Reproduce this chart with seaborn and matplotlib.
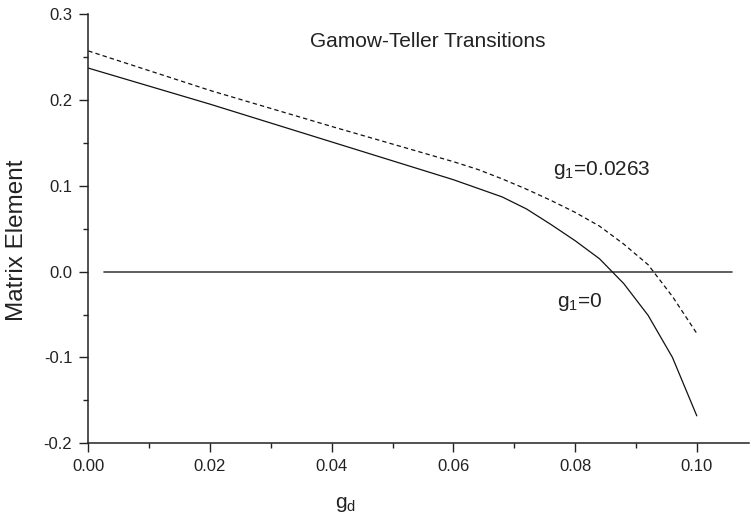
import matplotlib
matplotlib.use("Agg")
import matplotlib.pyplot as plt
from matplotlib.ticker import MultipleLocator, FormatStrFormatter
import numpy as np
import pandas as pd
import seaborn as sns

# Coupling g_d and the Gamow-Teller matrix element for two values of g_1
g_d = [0.0, 0.02, 0.04, 0.06, 0.064, 0.068, 0.072, 0.076, 0.08,
       0.084, 0.088, 0.092, 0.096, 0.1]
me_g1_zero = [0.237, 0.195, 0.151, 0.107, 0.097, 0.087, 0.073, 0.055,
              0.036, 0.015, -0.014, -0.051, -0.100, -0.168]
me_g1_0263 = [0.257, 0.211, 0.169, 0.128, 0.119, 0.108, 0.096, 0.083,
              0.069, 0.053, 0.032, 0.008, -0.029, -0.072]

# zero reference line
zero_x = [0.0026, 0.1058]
zero_y = [0.0, 0.0]

x_ticks = [0.00, 0.02, 0.04, 0.06, 0.08, 0.10]
y_ticks = [-0.2, -0.1, 0.0, 0.1, 0.2, 0.3]

sns.set_style("ticks")
plt.rcParams["font.family"] = ["Liberation Sans", "DejaVu Sans"]
plt.rcParams["mathtext.fontset"] = "custom"
plt.rcParams["mathtext.rm"] = "Liberation Sans"
plt.rcParams["mathtext.it"] = "Liberation Sans"

df_a = pd.DataFrame({"g_d": g_d, "me": me_g1_zero})
df_b = pd.DataFrame({"g_d": g_d, "me": me_g1_0263})
df_z = pd.DataFrame({"g_d": zero_x, "me": zero_y})

fig = plt.figure(figsize=(7.51, 5.15), dpi=100)
ax = fig.add_axes([0.1176, 0.1392, 0.8791, 0.8336])

sns.lineplot(data=df_z, x="g_d", y="me", ax=ax, color="#444444", lw=1.2)
sns.lineplot(data=df_a, x="g_d", y="me", ax=ax, color="#111111", lw=0.9)
sns.lineplot(data=df_b, x="g_d", y="me", ax=ax, color="#111111", lw=0.9,
             linestyle=(0, (3.5, 2.5)))

ax.set_xlim(0, 0.1085)
ax.set_ylim(-0.2, 0.3)
ax.set_xticks(x_ticks)
ax.set_yticks(y_ticks)
ax.xaxis.set_minor_locator(MultipleLocator(0.01))
ax.yaxis.set_minor_locator(MultipleLocator(0.05))
ax.xaxis.set_major_formatter(FormatStrFormatter("%.2f"))
ax.yaxis.set_major_formatter(FormatStrFormatter("%.1f"))

for side in ("top", "right"):
    ax.spines[side].set_visible(False)
for side in ("left", "bottom"):
    ax.spines[side].set_linewidth(1.1)
    ax.spines[side].set_color("#222222")

ax.tick_params(which="major", direction="out", length=6.5, width=1.0,
               labelsize=12, colors="#222222", pad=5)
ax.tick_params(which="minor", direction="out", length=3.6, width=1.0,
               colors="#222222")

ax.set_xlabel(r"g$_{\mathrm{d}}$", fontsize=15, color="#222222")
ax.set_ylabel("Matrix Element", fontsize=17.5, color="#222222")
ax.xaxis.set_label_coords(0.39, -0.12)
ax.yaxis.set_label_coords(-0.092, 0.4735)

ax.text(0.0558, 0.2677, "Gamow-Teller Transitions", fontsize=15,
        ha="center", va="center", color="#222222")
ax.text(0.0764, 0.118, r"g$_{\mathrm{1}}$=0.0263", fontsize=15,
        ha="left", va="center", color="#222222")
ax.text(0.0770, -0.035, r"g$_{\mathrm{1}}$=0", fontsize=15,
        ha="left", va="center", color="#222222")

fig.savefig("out.png", dpi=100, facecolor="white")
